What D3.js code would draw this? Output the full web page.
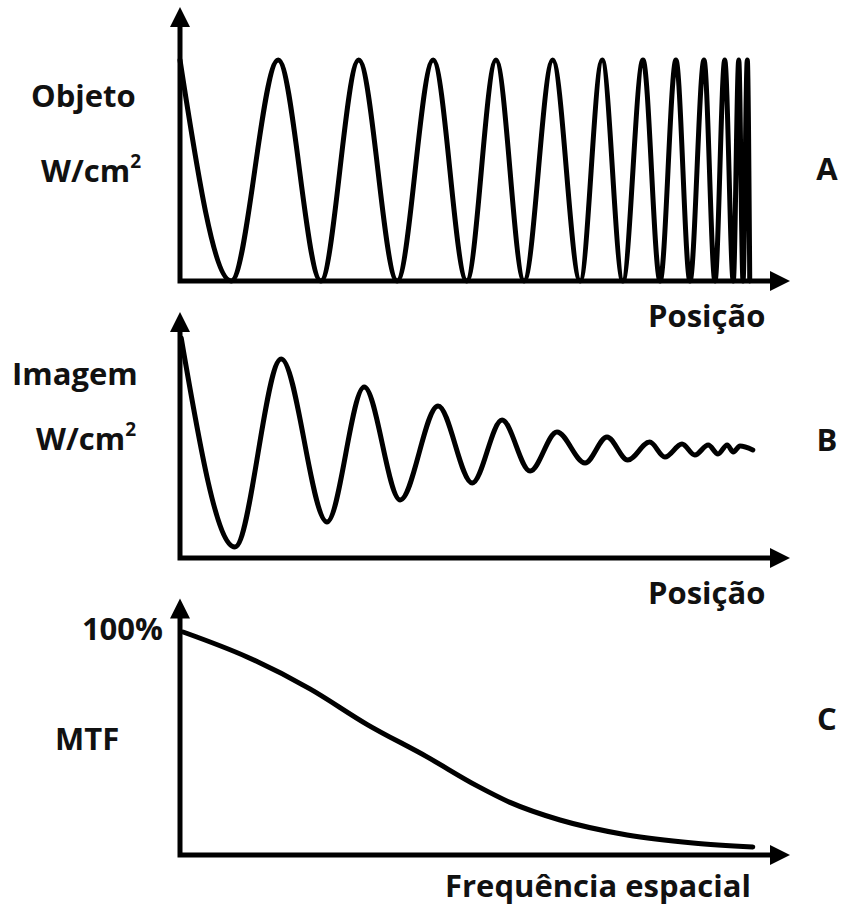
<!DOCTYPE html>
<html>
<head>
<meta charset="utf-8">
<script src="https://cdn.jsdelivr.net/npm/d3@7"></script>
<style>
  body{ margin:0; background:#fff; }
  svg text{ font-family:"Open Sans", "Noto Sans", sans-serif; font-weight:700; fill:#111; }
</style>
</head>
<body>
<svg id="chart" width="842" height="909"></svg>
<script>
/*
  Data (position in % of axis length, intensity as fraction)
*/
// A: object, chirped sinusoid (peaks = 1, troughs = 0)
var posA = [0, 8.4, 16.1, 23.1, 29.3, 35.6, 41.5, 47.0, 51.8, 56.4, 61.1, 65.6, 69.2, 72.6, 75.9, 78.7, 81.3, 83.6, 85.9, 87.7, 89.3, 90.7, 91.6, 92.3, 93.0, 93.4];
var valA = [1, 0, 1, 0, 1, 0, 1, 0, 1, 0, 1, 0, 1, 0, 1, 0, 1, 0, 1, 0, 1, 0, 1, 0, 1, 0];

// B: image, damped oscillation
var posB = [0.2, 9.0, 16.6, 24.1, 30.2, 36.1, 42.3, 47.9, 52.8, 57.4, 61.8, 66.4, 70.0, 73.4, 77.0, 79.5, 82.3, 84.4, 86.6, 88.2, 89.7, 90.7, 91.8, 93.9];
var valB = [1.0, 0.05, 0.905, 0.164, 0.777, 0.264, 0.691, 0.341, 0.627, 0.395, 0.573, 0.432, 0.55, 0.445, 0.527, 0.459, 0.518, 0.468, 0.514, 0.473, 0.514, 0.482, 0.509, 0.491];

// C: MTF vs spatial frequency
var posC = [0.5, 11, 21.3, 30.7, 40.5, 48.7, 54.1, 62.3, 73.3, 84.1, 93.9];
var valC = [1.0, 0.888, 0.745, 0.585, 0.44, 0.31, 0.236, 0.157, 0.090, 0.054, 0.036];

var tickC = ["100%"];

var svg = d3.select("#chart");

var x = d3.scaleLinear().domain([0, 100]).range([180, 790]);

var panels = [
  {pos: posA, val: valA, y: d3.scaleLinear().domain([0, 1]).range([281, 60]), top: 1.24},
  {pos: posB, val: valB, y: d3.scaleLinear().domain([0, 1]).range([558, 338]), top: 1.118},
  {pos: posC, val: valC, y: d3.scaleLinear().domain([0, 1]).range([855, 632]), top: 1.15}
];

var AXIS_W = 5, HEAD = 20, HALF = 10;

function drawPanel(p){
  var g = svg.append("g");
  var x0 = x(0), y0 = p.y(0), xEnd = x(100), yTop = p.y(p.top);

  //axes
  g.append("path")
    .attr("d", "M" + x0 + "," + (yTop + HEAD - 2) + "L" + x0 + "," + y0 + "L" + (xEnd - HEAD + 2) + "," + y0)
    .attr("fill", "none")
    .attr("stroke", "#000")
    .attr("stroke-width", AXIS_W)
    .attr("stroke-linecap", "square")
    .attr("stroke-linejoin", "miter");

  //arrow heads
  g.append("path")
    .attr("d", "M" + x0 + "," + yTop + "L" + (x0 - HALF) + "," + (yTop + HEAD) + "L" + (x0 + HALF) + "," + (yTop + HEAD) + "Z")
    .attr("fill", "#000");
  g.append("path")
    .attr("d", "M" + xEnd + "," + y0 + "L" + (xEnd - HEAD) + "," + (y0 - HALF) + "L" + (xEnd - HEAD) + "," + (y0 + HALF) + "Z")
    .attr("fill", "#000");

  //curve
  var line = d3.line()
    .x(function(d, i){ return x(p.pos[i]); })
    .y(function(d){ return p.y(d); })
    .curve(d3.curveMonotoneX);

  g.append("path")
    .attr("d", line(p.val))
    .attr("fill", "none")
    .attr("stroke", "#000")
    .attr("stroke-width", 5)
    .attr("stroke-linejoin", "round")
    .attr("stroke-linecap", "round");
}

panels.forEach(drawPanel);

//Labels
function label(txt, px, py, size, anchor){
  return svg.append("text")
    .attr("x", px).attr("y", py)
    .attr("font-size", size)
    .attr("text-anchor", anchor || "start")
    .text(txt);
}

function unitLabel(px, py){
  var t = svg.append("text").attr("x", px).attr("y", py).attr("font-size", 31);
  t.append("tspan").text("W/cm");
  t.append("tspan").attr("font-size", 19).attr("dy", -14).text("2");
}

label("Objeto", 31, 107, 31);
unitLabel(41, 182);
label("A", 827, 180, 31, "middle");
label("Posição", 648, 327, 31);

label("Imagem", 12, 385, 31);
unitLabel(36, 450);
label("B", 827, 451, 31, "middle");
label("Posição", 648, 604, 31);

label(tickC[0], 163, 640, 31, "end");
label("MTF", 55, 750, 31);
label("C", 827, 730, 31, "middle");
label("Frequência espacial", 445, 897, 31);
</script>
</body>
</html>
